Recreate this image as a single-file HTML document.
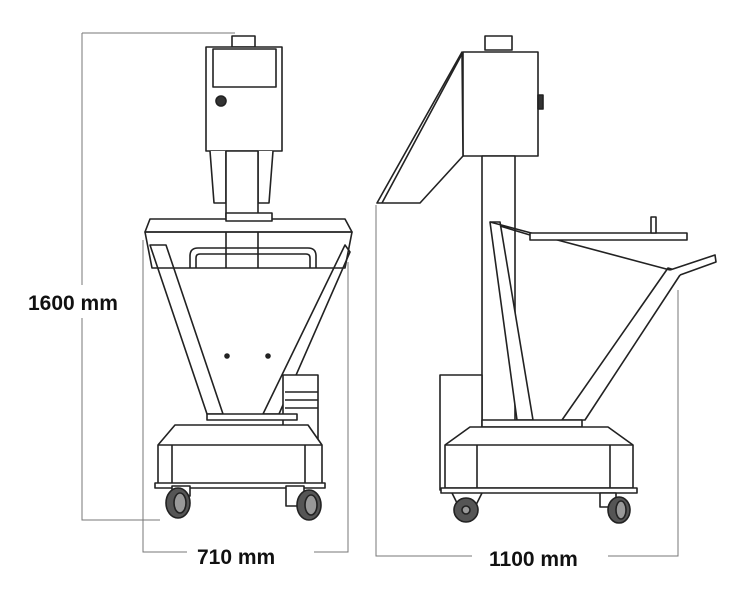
<!DOCTYPE html>
<html><head><style>
html,body{margin:0;padding:0;background:#fff;}
svg{display:block;}
text{font-family:"Liberation Sans",sans-serif;font-weight:bold;font-size:21px;fill:#111;}
</style></head><body>
<svg width="742" height="609" viewBox="0 0 742 609" xmlns="http://www.w3.org/2000/svg">
<g stroke="#777" stroke-width="1" fill="none">
<!-- dimension lines -->
<path d="M82,33 H235 M82,33 V285 M82,318 V520 H160"/>
<path d="M143,240 V552 H187 M314,552 H348 V262"/>
<path d="M376,205 V556 H472 M608,556 H678 V290"/>
</g>
<text x="28" y="310">1600 mm</text>
<text x="197" y="564">710 mm</text>
<text x="489" y="566">1100 mm</text>

<g stroke="#222" stroke-width="1.6" fill="#fff" stroke-linejoin="round">
<!-- LEFT CART -->
<rect x="232" y="36" width="23" height="11"/>
<rect x="206" y="47" width="76" height="104"/>
<rect x="213" y="49" width="63" height="38"/>
<circle cx="221" cy="101" r="5" fill="#333"/>
<path d="M210,151 L214,203 H226 V151 M273,151 L269,203 H258 V151"/>
<rect x="226" y="151" width="32" height="66"/>
<!-- legs -->
<path d="M150,245 L207,414 L223,414 L166,245 Z"/>
<path d="M345,245 L263,414 L279,414 L350,252 Z"/>
<!-- tray -->
<path d="M150,219 L345,219 L352,232 L145,232 Z"/>
<path d="M145,232 L352,232 L345,268 L152,268 Z" fill="none"/>
<path d="M190,268 V256 Q190,248 198,248 H308 Q316,248 316,256 V268" fill="none"/>
<path d="M196,268 V258 Q196,254 200,254 H306 Q310,254 310,258 V268" fill="none"/>
<path d="M226,232 V268 M258,232 V268" fill="none"/>
<rect x="226" y="213" width="46" height="8"/>
<circle cx="227" cy="356" r="2" fill="#222"/>
<circle cx="268" cy="356" r="2" fill="#222"/>
<!-- power box -->
<rect x="283" y="375" width="35" height="65"/>
<path d="M285,392 H318 M285,400 H318 M285,408 H318" fill="none"/>
<!-- base -->
<rect x="207" y="414" width="90" height="6"/>
<path d="M175,425 H308 L322,445 V485 H158 V445 Z"/>
<path d="M158,445 H322 M172,445 V485 M305,445 V485" fill="none"/>
<rect x="155" y="483" width="170" height="5"/>
<!-- wheels -->
<rect x="172" y="486" width="18" height="10"/>
<ellipse cx="178" cy="503" rx="12" ry="15" fill="#555"/>
<ellipse cx="180" cy="503" rx="6" ry="10" fill="#999"/>
<rect x="286" y="486" width="18" height="20"/>
<ellipse cx="309" cy="505" rx="12" ry="15" fill="#555"/>
<ellipse cx="311" cy="505" rx="6" ry="10" fill="#999"/>

<!-- RIGHT CART -->
<rect x="485" y="36" width="27" height="14"/>
<rect x="463" y="52" width="75" height="104"/>
<rect x="538" y="95" width="5" height="14" fill="#333"/>
<path d="M462,52 L377,203 H420 L463,156 Z"/>
<path d="M462,54 L382,203" fill="none"/>
<rect x="482" y="156" width="33" height="269"/>
<!-- side box -->
<rect x="440" y="375" width="42" height="115"/>
<!-- back leg -->
<path d="M490,222 L500,222 L533,420 L517,420 Z"/>
<!-- front leg -->
<path d="M668,268 L682,272 L585,420 L562,420 Z"/>
<!-- tray -->
<path d="M490,222 L670,270 M500,226 L530,235" fill="none"/>
<rect x="530" y="233" width="157" height="7"/>
<rect x="651" y="217" width="5" height="16"/>
<path d="M670,270 L715,255 L716,262 L680,275" />
<!-- base -->
<rect x="482" y="420" width="100" height="7"/>
<path d="M470,427 H608 L633,445 V488 H445 V445 Z"/>
<path d="M445,445 H633 M477,445 V488 M610,445 V488" fill="none"/>
<rect x="441" y="488" width="196" height="5"/>
<!-- wheels -->
<path d="M452,493 L458,505 M482,493 L476,505" fill="none"/>
<ellipse cx="466" cy="510" rx="12" ry="12" fill="#555"/>
<circle cx="466" cy="510" r="4" fill="#999"/>
<rect x="600" y="493" width="16" height="14"/>
<ellipse cx="619" cy="510" rx="11" ry="13" fill="#555"/>
<ellipse cx="621" cy="510" rx="5" ry="9" fill="#999"/>
</g>
</svg>
</body></html>
